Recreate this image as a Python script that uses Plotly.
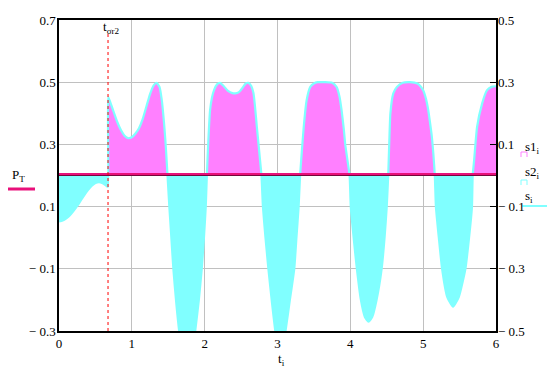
import plotly.graph_objects as go

# ---- data ----
t = [0.00, 0.05, 0.10, 0.15, 0.20, 0.25, 0.30, 0.35, 0.40, 0.45, 0.50, 0.55, 0.60, 0.65, 0.670,
     0.675, 0.70, 0.75, 0.80, 0.85, 0.90, 0.95, 1.00, 1.05, 1.10, 1.15, 1.20, 1.25, 1.30, 1.34,
     1.38, 1.41, 1.44, 1.46, 1.475, 1.49, 1.515, 1.54, 1.57, 1.61, 1.65, 1.70, 1.76, 1.82, 1.87,
     1.92, 1.96, 1.99, 2.015, 2.03, 2.05, 2.074, 2.10, 2.13, 2.17, 2.21, 2.26, 2.32, 2.38, 2.42,
     2.47, 2.52, 2.56, 2.60, 2.64, 2.67, 2.69, 2.715, 2.74, 2.76, 2.78, 2.80, 2.835, 2.875, 2.92,
     2.97, 3.00, 3.04, 3.08, 3.11, 3.17, 3.23, 3.26, 3.29, 3.31, 3.335, 3.36, 3.40, 3.45, 3.50,
     3.55, 3.65, 3.75, 3.81, 3.85, 3.88, 3.91, 3.93, 3.96, 3.99, 4.006, 4.05, 4.09, 4.145, 4.20,
     4.25, 4.30, 4.36, 4.43, 4.47, 4.50, 4.52, 4.535, 4.55, 4.59, 4.64, 4.72, 4.82, 4.92, 4.96,
     5.00, 5.04, 5.07, 5.10, 5.12, 5.14, 5.16, 5.175, 5.215, 5.26, 5.33, 5.41, 5.49, 5.58, 5.63,
     5.67, 5.68, 5.70, 5.74, 5.81, 5.875, 5.94, 6.00]
s = [-0.148, -0.145, -0.138, -0.128, -0.114, -0.098, -0.080, -0.062, -0.046, -0.033, -0.024, -0.021, -0.025, -0.033, -0.036,
     0.252, 0.238, 0.205, 0.172, 0.146, 0.128, 0.120, 0.123, 0.135, 0.153, 0.182, 0.222, 0.262, 0.290, 0.298,
     0.285, 0.245, 0.175, 0.115, 0.06, 0.0, -0.10, -0.19, -0.30, -0.41, -0.50, -0.58, -0.62, -0.58, -0.50,
     -0.40, -0.30, -0.20, -0.10, 0.0, 0.11, 0.21, 0.25, 0.275, 0.293, 0.298, 0.288, 0.272, 0.265, 0.264,
     0.268, 0.282, 0.295, 0.298, 0.288, 0.265, 0.225, 0.16, 0.10, 0.05, 0.0, -0.10, -0.20, -0.30, -0.40,
     -0.50, -0.54, -0.56, -0.54, -0.50, -0.40, -0.30, -0.20, -0.10, 0.0, 0.08, 0.156, 0.242, 0.285, 0.296,
     0.300, 0.300, 0.298, 0.285, 0.255, 0.21, 0.15, 0.10, 0.05, 0.0, -0.10, -0.21, -0.30, -0.40, -0.455,
     -0.470, -0.455, -0.40, -0.30, -0.20, -0.10, 0.0, 0.11, 0.20, 0.264, 0.285, 0.298, 0.300, 0.296, 0.288,
     0.274, 0.245, 0.21, 0.16, 0.123, 0.07, 0.0, -0.10, -0.20, -0.30, -0.39, -0.422, -0.39, -0.30, -0.20,
     -0.10, 0.0, 0.05, 0.156, 0.232, 0.274, 0.285, 0.287]
P_T = 0.204
t_or2 = 0.673

x_ticks = [0, 1, 2, 3, 4, 5, 6]
left_ticks = [0.7, 0.5, 0.3, 0.1, -0.1, -0.3]
left_labels = ["0.7", "0.5", "0.3", "0.1", "\u2212\u00a00.1", "\u2212\u00a00.3"]
right_ticks = [0.5, 0.3, 0.1, -0.1, -0.3, -0.5]
right_labels = ["0.5", "0.3", "0.1", "\u2212\u00a00.1", "\u2212\u00a00.3", "\u2212\u00a00.5"]

s1 = [max(v, 0.0) for v in s]
s2 = [min(v, 0.0) for v in s]

W, H = 557, 377
L, R, T, B = 59, 496, 20, 331
def px(x): return (x - L) / (R - L)
def py(y): return (B - y) / (B - T)

PINK = '#FF80FF'
CYAN = '#80FFFF'
MAG = '#E8107A'
FONT = 'Liberation Serif, Times New Roman, serif'
SM = 0.5

fig = go.Figure()
# s-series on the primary (right-side scale) axis 'y'
fig.add_trace(go.Scatter(x=t, y=s1, mode='lines', fill='tozeroy',
                         fillcolor=PINK, line=dict(width=0, color=PINK, shape='spline', smoothing=SM)))
fig.add_trace(go.Scatter(x=t, y=s2, mode='lines', fill='tozeroy',
                         fillcolor=CYAN, line=dict(width=0, color=CYAN, shape='spline', smoothing=SM)))
fig.add_trace(go.Scatter(x=t, y=s, mode='lines',
                         line=dict(color=CYAN, width=2.2, shape='spline', smoothing=SM)))
fig.add_trace(go.Scatter(x=[0, 6], y=[0, 0], mode='lines',
                         line=dict(color='black', width=1)))
# P_T and t_or2 on the left-scale overlay axis 'y2'
fig.add_trace(go.Scatter(x=[0, 6], y=[P_T, P_T], yaxis='y2', mode='lines',
                         line=dict(color=MAG, width=2.5)))
fig.add_trace(go.Scatter(x=[t_or2, t_or2], y=[-0.3, 0.66], yaxis='y2', mode='lines',
                         line=dict(color='#FF0000', width=1, dash='3px,3px')))

fig.update_layout(
    width=W, height=H, showlegend=False,
    paper_bgcolor='white', plot_bgcolor='white',
    margin=dict(l=L, r=W - R, t=T, b=H - B, autoexpand=False),
    font=dict(family=FONT, size=13, color='black'),
    xaxis=dict(range=[0, 6], tickvals=x_ticks, ticktext=[str(v) for v in x_ticks],
               showgrid=True, gridcolor='#C0C0C0', gridwidth=1, zeroline=False,
               showline=True, linecolor='black', linewidth=1.5, mirror=True,
               ticks='', automargin=False),
    yaxis=dict(range=[-0.5, 0.5], tickvals=right_ticks, showticklabels=False,
               side='right', showgrid=False, zeroline=False,
               showline=True, linecolor='black', linewidth=1.5,
               ticks='inside', ticklen=6, tickcolor='black', automargin=False),
    yaxis2=dict(range=[-0.3, 0.7], tickvals=left_ticks, ticktext=left_labels,
                overlaying='y', side='left',
                showgrid=True, gridcolor='#C0C0C0', gridwidth=1, zeroline=False,
                showline=True, linecolor='black', linewidth=1.5,
                ticks='', automargin=False, ticklabelstandoff=-1),
)

# right-axis tick labels, placed on the right axis scale
for v, lab in zip(right_ticks, right_labels):
    fig.add_annotation(text=lab, x=px(496), xref='paper', xanchor='left',
                       y=v, yref='y', yanchor='middle', showarrow=False,
                       font=dict(family=FONT, size=13, color='black'))

ann = [
    ("t<sub>i</sub>", 276, 349, 'left'),
    ("t<sub>\u03c3r2</sub>", 101, 17, 'left'),
    ("P<sub>T</sub>", 10, 165, 'left'),
    ("s1<sub>i</sub>", 523, 137, 'left'),
    ("s2<sub>i</sub>", 523, 162, 'left'),
    ("s<sub>i</sub>", 523, 186, 'left'),
]
for txt, x, y, xa in ann:
    fig.add_annotation(text=txt, x=px(x), y=py(y), xref='paper', yref='paper',
                       xanchor=xa, yanchor='top', showarrow=False,
                       font=dict(family=FONT, size=13, color='black'))

fig.add_shape(type='line', xref='paper', yref='paper', x0=px(8), x1=px(35), y0=py(189), y1=py(189),
              line=dict(color=MAG, width=3))
fig.add_shape(type='path', xref='paper', yref='paper',
              path=f"M {px(521)},{py(157)} L {px(521)},{py(152)} L {px(527)},{py(152)} L {px(527)},{py(157)}",
              line=dict(color=PINK, width=1))
fig.add_shape(type='path', xref='paper', yref='paper',
              path=f"M {px(521)},{py(185)} L {px(521)},{py(180)} L {px(527)},{py(180)} L {px(527)},{py(185)}",
              line=dict(color=CYAN, width=1))
fig.add_shape(type='line', xref='paper', yref='paper', x0=px(522), x1=px(547), y0=py(206), y1=py(206),
              line=dict(color=CYAN, width=2))

fig.write_html("out.html", config={'displayModeBar': False},
               post_script="document.body.style.margin='0';")
